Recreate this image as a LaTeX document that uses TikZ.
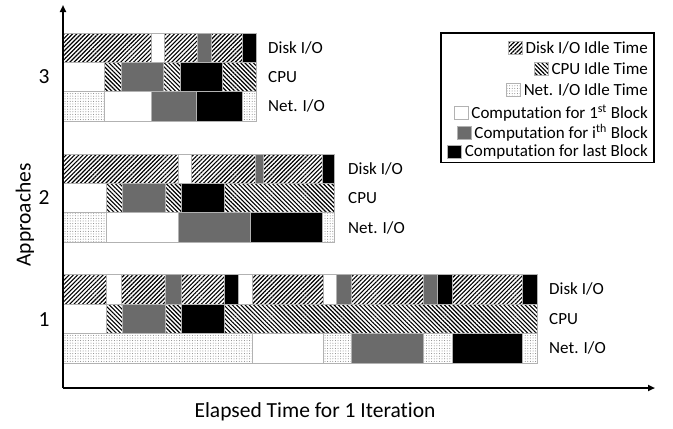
\documentclass[tikz,border=0pt]{standalone}
\usepackage{fontspec}
\setmainfont{Carlito}[Ligatures={NoCommon}]
\usetikzlibrary{patterns.meta,arrows.meta,calc}
\begin{document}
\begin{tikzpicture}[x=1pt,y=-1pt,
  cell/.style={draw=black!30,line width=0.5pt},
  D/.style={cell,pattern={Lines[angle=45,distance=3pt,line width=1.15pt]},pattern color=black},
  C/.style={cell,pattern={Lines[angle=-45,distance=3pt,line width=1.15pt]},pattern color=black},
  N/.style={cell,pattern={Dots[distance=2.6pt,radius=0.5pt]},pattern color=black!50},
  W/.style={cell,fill=white},
  G/.style={cell,fill=black!58},
  K/.style={cell,fill=black},
  lab/.style={font=\fontsize{17}{20}\selectfont,anchor=west,inner sep=0pt},
  leg/.style={font=\fontsize{17}{20}\selectfont,anchor=east,inner sep=0pt},
  big/.style={font=\fontsize{21.5}{25}\selectfont,inner sep=0pt},
  axis/.style={line width=2.2pt,-{Triangle[length=7pt,width=6pt]}}]
\useasboundingbox[fill=white] (0,0) rectangle (673,429);

% ---------- Approach 3 ----------
\foreach \a/\b/\s in {63/151/D,151/164.5/W,164.5/197/D,197/211/G,211/242/D,242/256/K}
  \path[\s] (\a,33) rectangle (\b,62.5);
\foreach \a/\b/\s in {63/104.5/W,104.5/121/C,121/163/G,163/180/C,180/222/K,222/256/C}
  \path[\s] (\a,62.5) rectangle (\b,91.5);
\foreach \a/\b/\s in {63/104.5/N,104.5/151/W,151/196/G,196/242/K,242/256/N}
  \path[\s] (\a,91.5) rectangle (\b,121);

% ---------- Approach 2 ----------
\foreach \a/\b/\s in {63/178.5/D,178.5/191/W,191/255/D,255/263.5/G,263.5/322/D,322/334.5/K}
  \path[\s] (\a,154) rectangle (\b,183);
\foreach \a/\b/\s in {63/106/W,106/122.5/C,122.5/165/G,165/181.5/C,181.5/224/K,224/334.5/C}
  \path[\s] (\a,183) rectangle (\b,212.5);
\foreach \a/\b/\s in {63/106/N,106/178.5/W,178.5/250/G,250/322/K,322/334.5/N}
  \path[\s] (\a,212.5) rectangle (\b,242.5);

% ---------- Approach 1 ----------
\foreach \a/\b/\s in {63/106.5/D,106.5/121.5/W,121.5/165/D,165/181.5/G,181.5/224.5/D,224.5/238.5/K,238.5/252.5/W,252.5/323.5/D,323.5/336.5/W,336.5/351.5/G,351.5/423.5/D,423.5/437.5/G,437.5/452.5/K,452.5/522.5/D,522.5/537.5/K}
  \path[\s] (\a,274.5) rectangle (\b,304);
\foreach \a/\b/\s in {63/106/W,106/122.5/C,122.5/165/G,165/181.5/C,181.5/224.5/K,224.5/537.5/C}
  \path[\s] (\a,304) rectangle (\b,333.5);
\foreach \a/\b/\s in {63/252/N,252/323.5/W,323.5/351.5/N,351.5/423.5/G,423.5/452/N,452/522.5/K,522.5/537.5/N}
  \path[\s] (\a,333.5) rectangle (\b,363);

% ---------- row labels ----------
\node[lab] (d3) at (268,48) {Disk I/O};
\node[lab] (c3) at (268,77) {CPU};
\node[lab] (n3) at (268,106) {Net. I/O};
\node[lab] (d2) at (348,169) {Disk I/O};
\node[lab] (c2) at (348,198) {CPU};
\node[lab] (n2) at (348,228) {Net. I/O};
\node[lab] (d1) at (549,289) {Disk I/O};
\node[lab] (c1) at (549,319) {CPU};
\node[lab] (n1) at (549,348) {Net. I/O};

% ---------- axes ----------
\coordinate (o) at (63,388);
\coordinate (ytop) at (63,5);
\coordinate (xend) at (655,388);
\draw[axis] (o) -- (ytop);
\draw[axis] (o) -- (xend);
\node[big] (a3) at (44,77) {3};
\node[big] (a2) at (44,198) {2};
\node[big] (a1) at (44,320) {1};
\node[big,rotate=90] (ylab) at (25,215) {Approaches};
\node[big] (xlab) at (315,412) {Elapsed Time for 1 Iteration};

% ---------- legend ----------
\node[draw=black,line width=1.2pt,minimum width=213pt,minimum height=129.5pt,inner sep=0pt] (legbox) at (547.5,97.75) {};
\node[leg] (l1) at (648,48) {Disk I/O Idle Time};
\node[leg] (l2) at (648,69) {CPU Idle Time};
\node[leg] (l3) at (648,90) {Net. I/O Idle Time};
\node[leg] (l4) at (648,113) {Computation for 1\textsuperscript{st} Block};
\node[leg] (l5) at (648,133) {Computation for i\textsuperscript{th} Block};
\node[leg] (l6) at (648,152) {Computation for last Block};
\foreach \n/\s in {l1/D,l2/C,l3/N,l4/W,l5/G,l6/K}
  \path[\s] ($(\n.west)+(-3,-6.5)$) rectangle ++(-14,13);
\end{tikzpicture}
\end{document}
